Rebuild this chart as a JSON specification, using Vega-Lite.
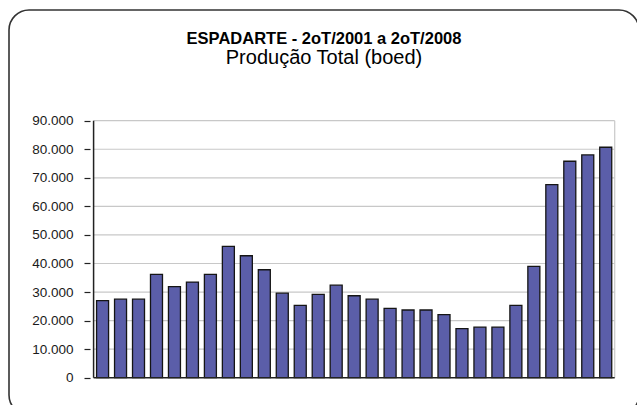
{
  "$schema": "https://vega.github.io/schema/vega-lite/v6.json",
  "autosize": "none",
  "width": 630,
  "height": 405,
  "padding": {"left": 9, "top": 10, "right": 0, "bottom": 0},
  "background": "white",
  "title": {
    "text": "ESPADARTE - 2oT/2001 a 2oT/2008",
    "subtitle": "Produção Total (boed)",
    "anchor": "middle",
    "frame": "group",
    "orient": "top",
    "offset": -58,
    "font": "Liberation Sans",
    "fontSize": 16.5,
    "fontWeight": "bold",
    "color": "#000000",
    "subtitleFont": "Liberation Sans",
    "subtitleFontSize": 20,
    "subtitleColor": "#000000",
    "subtitlePadding": 1
  },
  "config": {
    "view": {"stroke": "#333333", "strokeWidth": 1.6, "cornerRadius": 20, "fill": "white"},
    "axisY": {
      "labelExpr": "replace(format(datum.value, ',d'), ',', '.')",
      "domain": false,
      "grid": false,
      "offset": -81,
      "ticks": true,
      "tickSize": 6,
      "tickColor": "#222222",
      "tickWidth": 1.2,
      "labelFont": "Liberation Sans",
      "labelFontSize": 13.5,
      "labelColor": "#1a1a1a",
      "labelPadding": 11
    }
  },
  "data": {
    "values": [
      {"i": 1, "trimestre": "2T01", "boed": 27000},
      {"i": 2, "trimestre": "3T01", "boed": 27500},
      {"i": 3, "trimestre": "4T01", "boed": 27500},
      {"i": 4, "trimestre": "1T02", "boed": 36200},
      {"i": 5, "trimestre": "2T02", "boed": 31900},
      {"i": 6, "trimestre": "3T02", "boed": 33500},
      {"i": 7, "trimestre": "4T02", "boed": 36200},
      {"i": 8, "trimestre": "1T03", "boed": 46000},
      {"i": 9, "trimestre": "2T03", "boed": 42700},
      {"i": 10, "trimestre": "3T03", "boed": 37800},
      {"i": 11, "trimestre": "4T03", "boed": 29600},
      {"i": 12, "trimestre": "1T04", "boed": 25300},
      {"i": 13, "trimestre": "2T04", "boed": 29200},
      {"i": 14, "trimestre": "3T04", "boed": 32400},
      {"i": 15, "trimestre": "4T04", "boed": 28700},
      {"i": 16, "trimestre": "1T05", "boed": 27500},
      {"i": 17, "trimestre": "2T05", "boed": 24300},
      {"i": 18, "trimestre": "3T05", "boed": 23700},
      {"i": 19, "trimestre": "4T05", "boed": 23700},
      {"i": 20, "trimestre": "1T06", "boed": 22100},
      {"i": 21, "trimestre": "2T06", "boed": 17200},
      {"i": 22, "trimestre": "3T06", "boed": 17700},
      {"i": 23, "trimestre": "4T06", "boed": 17700},
      {"i": 24, "trimestre": "1T07", "boed": 25300},
      {"i": 25, "trimestre": "2T07", "boed": 39000},
      {"i": 26, "trimestre": "3T07", "boed": 67600},
      {"i": 27, "trimestre": "4T07", "boed": 75800},
      {"i": 28, "trimestre": "1T08", "boed": 78000},
      {"i": 29, "trimestre": "2T08", "boed": 80700}
    ]
  },
  "layer": [
    {
      "data": {"values": [{"g": 10000}, {"g": 20000}, {"g": 30000}, {"g": 40000}, {"g": 50000}, {"g": 60000}, {"g": 70000}, {"g": 80000}, {"g": 90000}]},
      "mark": {"type": "rule", "color": "#c8c8c8", "strokeWidth": 1.2},
      "encoding": {
        "y": {"field": "g", "type": "quantitative", "axis": {"title": null, "values": [0, 10000, 20000, 30000, 40000, 50000, 60000, 70000, 80000, 90000]}},
        "x": {"datum": 0.5, "type": "quantitative", "axis": null},
        "x2": {"datum": 29.5}
      }
    },
    {
      "data": {"values": [{"k": 1}]},
      "mark": {"type": "rule", "color": "#c8c8c8", "strokeWidth": 1.2},
      "encoding": {
        "x": {"datum": 29.5, "type": "quantitative", "axis": null},
        "y": {"datum": 0, "type": "quantitative", "axis": {"title": null, "values": [0, 10000, 20000, 30000, 40000, 50000, 60000, 70000, 80000, 90000]}},
        "y2": {"datum": 90000}
      }
    },
    {
      "mark": {"type": "bar", "width": 12, "color": "#5b5ea9", "stroke": "#151515", "strokeWidth": 1.3},
      "encoding": {
        "x": {"field": "i", "type": "quantitative", "axis": null, "scale": {"domain": [-3.929, 30.573], "nice": false, "zero": false}},
        "y": {
          "field": "boed",
          "type": "quantitative",
          "scale": {"domain": [-13062, 128766], "nice": false, "zero": false},
          "axis": {"title": null, "values": [0, 10000, 20000, 30000, 40000, 50000, 60000, 70000, 80000, 90000]}
        },
        "tooltip": [{"field": "trimestre", "type": "nominal"}, {"field": "boed", "type": "quantitative"}]
      }
    },
    {
      "data": {"values": [{"k": 1}]},
      "mark": {"type": "rule", "color": "#222222", "strokeWidth": 1.5},
      "encoding": {
        "x": {"datum": 0.5, "type": "quantitative", "axis": null},
        "y": {"datum": 0, "type": "quantitative", "axis": {"title": null, "values": [0, 10000, 20000, 30000, 40000, 50000, 60000, 70000, 80000, 90000]}},
        "y2": {"datum": 90000}
      }
    },
    {
      "data": {"values": [{"k": 1}]},
      "mark": {"type": "rule", "color": "#222222", "strokeWidth": 1.5},
      "encoding": {
        "y": {"datum": 0, "type": "quantitative", "axis": {"title": null, "values": [0, 10000, 20000, 30000, 40000, 50000, 60000, 70000, 80000, 90000]}},
        "x": {"datum": 0.5, "type": "quantitative", "axis": null},
        "x2": {"datum": 29.5}
      }
    }
  ]
}
